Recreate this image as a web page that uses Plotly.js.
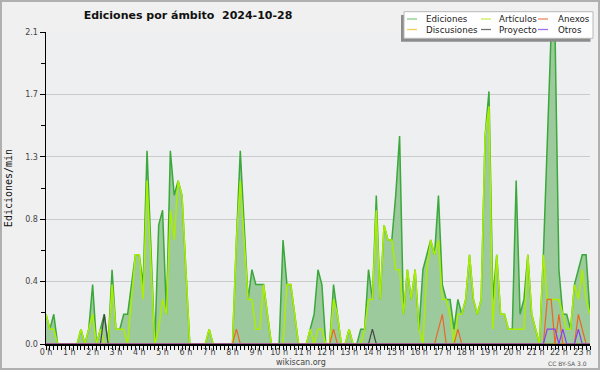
<!DOCTYPE html>
<html><head><meta charset="utf-8">
<script src="https://cdn.plot.ly/plotly-3.0.1.min.js"></script>
<style>html,body{margin:0;padding:0;background:#f0f0f0}</style>
</head><body><div id="chart" style="width:600px;height:370px"></div>
<script>
// edits per minute, 10-minute buckets from 00:00
const ediciones = [
 0.2,0.1,0.2,0,0,0,0,0,0,0.1,
 0,0.1,0.4,0,0.1,0.2,0,0.5,0.1,0.1,
 0.2,0.2,0.4,0.6,0.6,0.4,1.3,0.6,0,0.8,
 0.9,0.2,1.3,1.0,1.1,1.0,0.5,0,0,0,
 0,0,0.1,0,0,0,0,0,0,0.7,
 1.3,0.8,0.3,0.5,0.4,0.4,0.4,0.2,0,0,
 0,0.7,0.4,0.4,0.2,0,0,0,0.1,0.2,
 0.5,0.4,0,0,0.4,0.2,0,0,0.1,0,
 0,0.1,0.1,0.5,0.3,1.0,0.3,0.8,0.7,0.7,
 1.0,1.4,0.2,0.5,0.3,0.5,0.1,0.5,0.6,0.7,
 0.6,1.0,0.4,0.3,0.3,0.1,0.3,0.2,0.3,0.6,
 0.3,0.2,0.3,1.4,1.7,0.3,0.6,0.2,0.2,0.1,
 0.1,1.1,0.2,0.3,0.6,0.2,0.1,0,0.6,1.3,
 2.1,2.1,0.5,0.2,0.2,0.1,0.4,0.5,0.6,0.6,0.2
];
const articulos = [
 0.2,0.1,0.1,0,0,0,0,0,0,0.1,
 0,0.1,0.2,0,0.1,0,0,0.4,0.1,0.1,
 0.1,0,0.3,0.6,0.6,0.3,1.1,0.5,0,0.1,
 0.3,0.2,0.9,0.7,1.1,1.0,0.5,0,0,0,
 0,0,0.1,0,0,0,0,0,0,0.7,
 1.1,0.7,0.3,0.3,0.1,0.1,0.4,0.2,0,0,
 0,0,0.4,0.4,0.2,0,0,0,0.1,0,
 0.1,0.1,0,0,0.3,0.2,0,0,0.1,0,
 0,0,0.1,0.3,0.3,0.9,0.3,0.8,0.7,0.7,
 0.5,0.5,0.2,0.5,0.3,0.5,0.1,0,0.5,0.7,
 0.6,0.7,0.3,0.3,0.2,0,0.2,0.2,0.3,0.6,
 0.3,0.2,0.3,1.4,1.6,0.1,0.6,0.2,0.2,0.1,
 0.1,0.1,0.1,0.1,0.6,0.2,0.1,0,0.6,0.3,
 0.3,0.3,0.3,0.2,0.1,0.1,0.4,0.3,0.5,0.3,0.2
];
const discusiones = [
 0,0,0,0,0,0,0,0,0,0, 0,0,0,0,0,0,0,0,0,0, 0,0,0,0,0,0,0,0,0,0,
 0,0,0,0,0,0,0,0,0,0, 0,0,0,0,0,0,0,0,0,0, 0,0,0,0,0,0,0,0,0,0,
 0,0,0,0,0,0,0,0,0,0, 0,0,0,0,0,0,0,0,0,0, 0,0,0,0,0,0,0,0,0,0,
 0,0,0,0,0,0,0,0,0,0, 0,0,0,0,0,0,0,0,0,0, 0,0,0,0,0,0,0,0,0,0,
 0,0,0,0,0,0,0,0,0,0, 0,0,0,0,0,0,0,0,0,0, 0
];
const proyecto = [
 0,0,0,0,0,0,0,0,0,0, 0,0,0,0,0,0.2,0,0,0,0, 0,0,0,0,0,0,0,0,0,0,
 0,0,0,0,0,0,0,0,0,0, 0,0,0,0,0,0,0,0,0,0, 0,0,0,0,0,0,0,0,0,0,
 0,0,0,0,0,0,0,0,0,0, 0,0,0,0,0,0,0,0,0,0, 0,0,0,0,0.1,0,0,0,0,0,
 0,0,0,0,0,0,0,0,0,0, 0,0,0,0,0,0,0,0,0,0, 0,0,0,0,0,0,0,0,0,0,
 0,0,0,0,0,0,0,0,0,0, 0,0,0,0,0,0,0,0,0,0, 0
];
const anexos = [
 0,0,0,0,0,0,0,0,0,0, 0,0,0,0,0,0,0,0,0,0, 0,0,0,0,0,0,0,0,0,0,
 0,0,0,0,0,0,0,0,0,0, 0,0,0,0,0,0,0,0,0,0.1, 0,0,0,0,0,0,0,0,0,0,
 0,0,0,0,0,0,0,0,0,0, 0,0,0,0,0.1,0,0,0,0,0, 0,0,0,0,0,0,0,0,0,0,
 0,0,0,0,0,0,0,0,0,0, 0,0.1,0.2,0,0,0,0.1,0,0,0, 0,0,0,0,0,0,0,0,0,0,
 0,0,0,0,0,0,0,0,0,0.3, 0.3,0,0.2,0,0,0,0,0.2,0.1,0, 0
];
const otros = [
 0,0,0,0,0,0,0,0,0,0, 0,0,0,0,0,0,0,0,0,0, 0,0,0,0,0,0,0,0,0,0,
 0,0,0,0,0,0,0,0,0,0, 0,0,0,0,0,0,0,0,0,0, 0,0,0,0,0,0,0,0,0,0,
 0,0,0,0,0,0,0,0,0,0, 0,0,0,0,0,0,0,0,0,0, 0,0,0,0,0,0,0,0,0,0,
 0,0,0,0,0,0,0,0,0,0, 0,0,0,0,0,0,0,0,0,0, 0,0,0,0,0,0,0,0,0,0,
 0,0,0,0,0,0,0,0,0,0.1, 0.1,0.1,0,0.1,0,0,0,0.1,0,0, 0
];
const hourTicks = [0,1,2,3,4,5,6,7,8,9,10,11,12,13,14,15,16,17,18,19,20,21,22,23];
const hourLabels = ['0 h','1 h','2 h','3 h','4 h','5 h','6 h','7 h','8 h','9 h','10 h','11 h','12 h','13 h','14 h','15 h','16 h','17 h','18 h','19 h','20 h','21 h','22 h','23 h'];
const yTickVals = [0,0.42,0.84,1.26,1.68,2.1];
const yTickText = ['0.0','0.4','0.8','1.3','1.7','2.1'];

const times = ediciones.map((_, i) => i / 6); // hour of each 10-minute bucket

const traces = [
  {x: times, y: ediciones, name: 'Ediciones', type: 'scatter', mode: 'lines', fill: 'tozeroy',
   fillcolor: '#9dca9d', line: {color: '#3aa83a', width: 1.5}},
  {x: times, y: discusiones, name: 'Discusiones', type: 'scatter', mode: 'lines', line: {color: '#f5c842', width: 1.3}},
  {x: times, y: articulos, name: 'Artículos', type: 'scatter', mode: 'lines', line: {color: '#aaee00', width: 1.5}},
  {x: times, y: proyecto, name: 'Proyecto', type: 'scatter', mode: 'lines', line: {color: '#444444', width: 1.2}},
  {x: times, y: anexos, name: 'Anexos', type: 'scatter', mode: 'lines', line: {color: '#ee6622', width: 1.2}},
  {x: times, y: otros, name: 'Otros', type: 'scatter', mode: 'lines', line: {color: '#8a3ff0', width: 1.2}}
];

// pixel -> paper helpers (plot area: x 46..590, y 32..344)
const PX = x => (x - 46) / 544;
const PY = y => (344 - y) / 312;

const legendItems = [
  {name: 'Ediciones', color: '#86cc86', lx: 407, tx: 424, y: 19},
  {name: 'Artículos', color: '#c8ee55', lx: 481, tx: 497, y: 19},
  {name: 'Anexos', color: '#ee8a60', lx: 538, tx: 556, y: 19},
  {name: 'Discusiones', color: '#f2cf55', lx: 407, tx: 424, y: 29.5},
  {name: 'Proyecto', color: '#707070', lx: 481, tx: 497, y: 29.5},
  {name: 'Otros', color: '#a070f0', lx: 538, tx: 556, y: 29.5}
];

const shapes = [
  {type: 'rect', xref: 'paper', yref: 'paper', x0: PX(1), x1: PX(599), y0: PY(369), y1: PY(1),
   line: {color: '#b0b0b0', width: 2}, fillcolor: 'rgba(0,0,0,0)', layer: 'above'},
  {type: 'rect', xref: 'paper', yref: 'paper', x0: PX(401), x1: PX(590.5), y0: PY(41.7), y1: PY(15),
   line: {width: 0}, fillcolor: '#8c8c8c', layer: 'above'},
  {type: 'rect', xref: 'paper', yref: 'paper', x0: PX(404), x1: PX(593), y0: PY(38.3), y1: PY(11.7),
   line: {color: '#b8b8b8', width: 1}, fillcolor: '#ffffff', layer: 'above'}
];
const annotations = [];
legendItems.forEach(it => {
  shapes.push({type: 'line', xref: 'paper', yref: 'paper', x0: PX(it.lx), x1: PX(it.lx + 10),
    y0: PY(it.y), y1: PY(it.y), line: {color: it.color, width: 1.3}, layer: 'above'});
  annotations.push({xref: 'paper', yref: 'paper', x: PX(it.tx), y: PY(it.y), xanchor: 'left', yanchor: 'middle',
    text: it.name, showarrow: false, font: {family: 'DejaVu Sans', size: 8.7, color: '#222'}});
});
annotations.push({xref: 'paper', yref: 'paper', x: PX(301), y: PY(362), xanchor: 'center', yanchor: 'middle',
  text: 'wikiscan.org', showarrow: false, font: {family: 'DejaVu Sans', size: 8, color: '#444'}});
annotations.push({xref: 'paper', yref: 'paper', x: PX(589), y: PY(363), xanchor: 'right', yanchor: 'middle',
  text: 'CC BY-SA 3.0', showarrow: false, font: {family: 'DejaVu Sans', size: 6, color: '#555'}});

const layout = {
  width: 600, height: 370,
  margin: {l: 46, r: 10, t: 32, b: 26},
  paper_bgcolor: '#f0f0f0', plot_bgcolor: '#eeeff1',
  showlegend: false,
  title: {text: 'Ediciones por ámbito\u00a0 2024-10-28', x: 188/600, xref: 'container', xanchor: 'center',
          y: 1 - 15/370, yref: 'container', yanchor: 'middle',
          font: {family: 'DejaVu Sans', size: 11, weight: 'bold', color: '#111'}},
  xaxis: {range: [0, times[times.length - 1]], tickvals: hourTicks, ticktext: hourLabels,
          ticks: '', showgrid: false, zeroline: false,
          showline: true, linecolor: '#000', linewidth: 1.5,
          tickfont: {family: 'DejaVu Sans', size: 8, color: '#444'},
          minor: {dtick: 1/6, tick0: 0, ticks: 'outside', ticklen: 4, tickcolor: '#000', showgrid: false},
          fixedrange: true},
  yaxis: {range: [0, 2.1], tickvals: yTickVals, ticktext: yTickText,
          ticks: 'outside', ticklen: 5, tickcolor: '#000', showgrid: true, gridcolor: '#cbcbcb', gridwidth: 1,
          zeroline: false, showline: true, linecolor: '#000', linewidth: 1.5,
          tickfont: {family: 'DejaVu Sans', size: 8, color: '#444'},
          minor: {dtick: 0.21, tick0: 0, ticks: 'outside', ticklen: 4, tickcolor: '#000', showgrid: false},
          title: {text: 'Ediciones/min', standoff: 10, font: {family: 'DejaVu Sans Mono', size: 10, color: '#111'}},
          fixedrange: true},
  shapes: shapes,
  annotations: annotations
};

Plotly.newPlot('chart', traces, layout, {displayModeBar: false, staticPlot: true});
</script>
</body></html>
